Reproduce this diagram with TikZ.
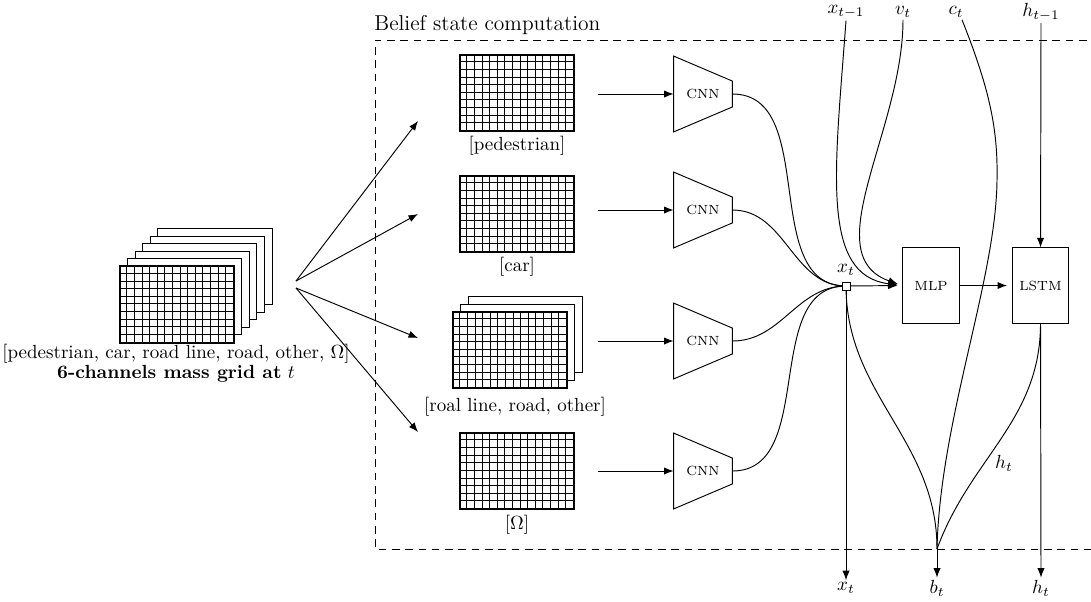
\documentclass[tikz,border=0pt]{standalone}
\usetikzlibrary{arrows.meta,calc}
\newcommand\gridlines[1]{%
  \foreach \i in {1,...,14}{\draw[line width=0.45pt] ($(#1.north west)+(\i*7.6,0)$) -- ($(#1.south west)+(\i*7.6,0)$);}
  \foreach \j in {1,...,9}{\draw[line width=0.45pt] ($(#1.north west)+(0,\j*7.6)$) -- ($(#1.north east)+(0,\j*7.6)$);}
  \draw[line width=0.7pt] (#1.north west) rectangle (#1.south east);
}
\begin{document}
\begin{tikzpicture}[x=0.526pt,y=-0.526pt,
  >={Latex[length=5pt,width=3.8pt]},
  every node/.style={inner sep=1pt},
  gridnode/.style={draw,fill=white,line width=0.7pt,minimum width=60pt,minimum height=40pt,inner sep=0pt},
  layer/.style={draw,fill=white,line width=0.5pt,minimum width=60pt,minimum height=40pt,inner sep=0pt},
  cnnbox/.style={minimum width=30.5pt,minimum height=39.5pt,inner sep=0pt,font=\scriptsize},
  block/.style={draw,line width=0.5pt,minimum width=29.7pt,minimum height=39.5pt,inner sep=0pt,font=\scriptsize},
  dashbox/.style={line width=0.5pt,dash pattern=on 4pt off 3pt},
  conn/.style={line width=0.5pt},
  shortgap/.style={shorten >=2.5pt}
]
\clip (0,0) rectangle (1091,601);
\path[use as bounding box] (0,0) rectangle (1091,601);

% frame
\draw[dashbox] (1100,40) -- (375,40) -- (375,549) -- (1100,549);
\node[anchor=south west,inner sep=0pt,font=\fontsize{11.3}{13}\selectfont] (title) at (374,35) {Belief state computation};

% left stack
\foreach \k in {5,4,3,2,1}{\node[layer] (ls\k) at ($(177,304.5)+(\k*7.6,-\k*7.6)$) {};}
\node[gridnode] (stack) at (177,304.5) {};
\gridlines{stack}
\node (stacklbl) at (176,354) {[pedestrian, car, road line, road, other, $\Omega$]};
\node (stackttl) at (176,374) {\textbf{6-channels mass grid at} $t$};

% fan arrows
\coordinate (s1) at (296,281);
\coordinate (s2) at (296,288);
\coordinate (e1) at (418,121);
\coordinate (e2) at (418,214);
\coordinate (e3) at (418,338);
\coordinate (e4) at (418,432);
\draw[conn,->] (s1) -- (e1);
\draw[conn,->] (s1) -- (e2);
\draw[conn,->] (s2) -- (e3);
\draw[conn,->] (s2) -- (e4);

% middle grids
\node[gridnode] (gped) at (517,93) {};
\gridlines{gped}
\node (lped) at (517,146) {[pedestrian]};
\node[gridnode] (gcar) at (517,214) {};
\gridlines{gcar}
\node (lcar) at (517,267) {[car]};
\node[layer] (groad2) at (525.2,334.8) {};
\node[layer] (groad1) at (517.6,342.4) {};
\node[gridnode] (groad) at (510,350) {};
\gridlines{groad}
\node (lroad) at (515,407) {[roal line, road, other]};
\node[gridnode] (gom) at (517,471) {};
\gridlines{gom}
\node (lom) at (517,525) {[$\Omega$]};

% CNNs
\node[cnnbox] (cnn1) at (703,94) {CNN};
\node[cnnbox] (cnn2) at (703,210) {CNN};
\node[cnnbox] (cnn3) at (703,341) {CNN};
\node[cnnbox] (cnn4) at (703,471) {CNN};
\foreach \c in {cnn1,cnn2,cnn3,cnn4}{
  \draw[conn] (\c.north west) -- ($(\c.north east)+(0,25)$) -- ($(\c.south east)+(0,-25)$) -- (\c.south west) -- cycle;
}
\coordinate (a1) at (598,94);
\coordinate (a2) at (598,210);
\coordinate (a3) at (598,341);
\coordinate (a4) at (598,471);
\draw[conn,->] (a1) -- (cnn1.west);
\draw[conn,->] (a2) -- (cnn2.west);
\draw[conn,->] (a3) -- (cnn3.west);
\draw[conn,->] (a4) -- (cnn4.west);

% blocks
\node[block] (mlp) at (931,285.5) {MLP};
\node[block] (lstm) at (1040.5,285.5) {LSTM};

% top and bottom labels
\node (xtm1) at (846,12) {$x_{t-1}$};
\node (vt) at (903,12) {$v_t$};
\node (ct) at (956,12) {$c_t$};
\node (htm1) at (1041,12) {$h_{t-1}$};
\node (xtb) at (846,588) {$x_t$};
\node (btb) at (937,588) {$b_t$};
\node (htb) at (1041,588) {$h_t$};
\node (htl) at (1004,463) {$h_t$};
\coordinate (m) at (937,549);

% curves into x_t
\coordinate (xtc) at (846,286);
\draw[conn] (cnn1.east) to[out=0,in=180] (xtc);
\draw[conn] (cnn2.east) to[out=0,in=180] (xtc);
\draw[conn] (cnn3.east) to[out=0,in=180] (xtc);
\draw[conn] (cnn4.east) to[out=0,in=180] (xtc);

% inputs to MLP
\draw[conn,->,shortgap] (xtm1.south) .. controls (835,170) and (820,275) .. (mlp.west);
\draw[conn,->,shortgap] (vt.south) .. controls (903,130) and (815,255) .. (mlp.west);
\draw[conn] ($(ct.south)+(6,0)$) .. controls (990,90) and (998,130) .. (997,180) .. controls (996,280) and (940,420) .. (m);
\draw[conn,->] (htm1.south) -- (lstm.north);

% outputs
\draw[conn] (xtc) to[out=-90,in=90] (m);
\draw[conn] (lstm.south) to[out=-90,in=70] (m);
\draw[conn,->] (m) -- (btb.north);
\draw[conn,->] (xtc) -- (xtb.north);
\draw[conn,->] (lstm.south) -- (htb.north);
\draw[conn,->,shortgap] (xtc) -- (mlp.west);
\draw[conn,->,shortgap] (mlp.east) -- (lstm.west);

\node[draw,fill=white,line width=0.5pt,minimum size=4.2pt,inner sep=0pt] (xt) at (xtc) {};
\node (xtl) at (846,270) {$x_t$};
\end{tikzpicture}
\end{document}
